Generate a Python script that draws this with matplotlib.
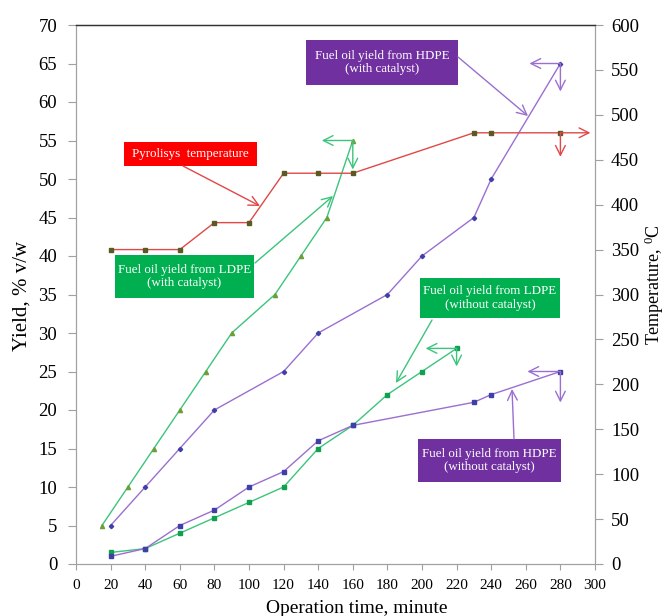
import matplotlib
matplotlib.use("Agg")
import matplotlib.pyplot as plt
from matplotlib.patches import Rectangle

# ---------------- data ----------------
time_temp = [20, 40, 60, 80, 100, 120, 140, 160, 230, 240, 280]
temperature = [350, 350, 350, 380, 380, 435, 435, 435, 480, 480, 480]

time_ldpe_cat = [15, 30, 45, 60, 75, 90, 115, 130, 145, 160]
yield_ldpe_cat = [5, 10, 15, 20, 25, 30, 35, 40, 45, 55]

time_hdpe_cat = [20, 40, 60, 80, 120, 140, 180, 200, 230, 240, 280]
yield_hdpe_cat = [5, 10, 15, 20, 25, 30, 35, 40, 45, 50, 65]

time_ldpe = [20, 40, 60, 80, 100, 120, 140, 160, 180, 200, 220]
yield_ldpe = [1.5, 2, 4, 6, 8, 10, 15, 18, 22, 25, 28]

time_hdpe = [20, 40, 60, 80, 100, 120, 140, 160, 230, 240, 280]
yield_hdpe = [1, 2, 5, 7, 10, 12, 16, 18, 21, 22, 25]

x_ticks = list(range(0, 301, 20))
y_ticks = list(range(0, 71, 5))
t_ticks = list(range(0, 601, 50))

# ---------------- style ----------------
plt.rcParams['font.family'] = ['Liberation Serif', 'DejaVu Serif']
PURPLE_L = '#9b6fd0'
PURPLE_M = '#3f3fa8'
GREEN_L = '#3cc47c'
GREEN_M_TRI = '#6e9e3a'
GREEN_M_SQ = '#10a050'
RED_L = '#e04848'
RED_M = '#5a5a22'
BOX_RED = '#ff0000'
BOX_GREEN = '#00b050'
BOX_PURPLE = '#7030a0'
SPINE = '#a0a0a0'

fig = plt.figure(figsize=(6.65, 6.16), dpi=100)
ax = fig.add_axes([76/665, 52/616, 519/665, 539/616])
ax2 = ax.twinx()

lw = 1.0
ms = 2.6
ax.plot(time_ldpe_cat, yield_ldpe_cat, color=GREEN_L, lw=lw, marker='^',
        ms=ms + 0.4, mfc=GREEN_M_TRI, mec=GREEN_M_TRI, zorder=3)
ax.plot(time_hdpe_cat, yield_hdpe_cat, color=PURPLE_L, lw=lw, marker='D',
        ms=ms * 0.85, mfc=PURPLE_M, mec=PURPLE_M, zorder=3)
ax.plot(time_ldpe, yield_ldpe, color=GREEN_L, lw=lw, marker='s',
        ms=ms, mfc=GREEN_M_SQ, mec=GREEN_M_SQ, zorder=3)
ax.plot(time_hdpe, yield_hdpe, color=PURPLE_L, lw=lw, marker='s',
        ms=ms * 0.9, mfc=PURPLE_M, mec=PURPLE_M, zorder=3)
ax2.plot(time_temp, temperature, color=RED_L, lw=lw, marker='s',
         ms=ms, mfc=RED_M, mec=RED_M, zorder=3)

ax.set_xlim(0, 300)
ax.set_ylim(0, 70)
ax2.set_ylim(0, 600)
ax.set_xticks(x_ticks)
ax.set_yticks(y_ticks)
ax2.set_yticks(t_ticks)

for a in (ax, ax2):
    for s in ('left', 'right', 'bottom'):
        a.spines[s].set_color(SPINE)
    a.spines['top'].set_color('#333333')
    a.spines['top'].set_linewidth(0.9)
ax.tick_params(axis='y', direction='out', length=6, color=SPINE, labelsize=13.5, pad=7.5)
ax.tick_params(axis='x', direction='out', length=4.5, color=SPINE, labelsize=11, pad=6.5)
ax2.tick_params(axis='y', direction='out', length=6, color=SPINE, labelsize=13.5, pad=5.5)

ax.set_xlabel('Operation time, minute', fontsize=14)
ax.xaxis.set_label_coords((357 - 76) / 519, (564 - 600) / 539)
ax.set_ylabel('Yield, % v/w', fontsize=15)
ax.yaxis.set_label_coords((32 - 76) / 519, (564 - 296) / 539)
ax2.set_ylabel('Temperature, $\\mathregular{^{0}}$C', fontsize=13)
ax2.yaxis.set_label_coords((643 - 76) / 519, (564 - 285) / 539)

# ---------------- annotation boxes ----------------
def px_to_data(px, py):
    return ((px - 76) / 519 * 300, (564 - py) / 539 * 70)

tr = ax.transData

def box(x0, y0, x1, y1, color, text):
    (dx0, dy1) = px_to_data(x0, y0)
    (dx1, dy0) = px_to_data(x1, y1)
    r = Rectangle((dx0, dy0), dx1 - dx0, dy1 - dy0, transform=tr,
                  facecolor=color, edgecolor='none', zorder=5, clip_on=False)
    ax2.add_patch(r)
    ax2.text((dx0 + dx1) / 2, (dy0 + dy1) / 2, text, transform=tr,
             ha='center', va='center', color='white', fontsize=9.4,
             linespacing=1.2, zorder=6)

def arrow(tail, head, color):
    ax2.annotate('', xy=px_to_data(*head), xycoords=tr,
                 xytext=px_to_data(*tail), textcoords=tr,
                 arrowprops=dict(arrowstyle='->,head_length=0.7,head_width=0.35',
                                 color=color, lw=1.0, shrinkA=0, shrinkB=0),
                 zorder=6)

box(124, 142, 257, 166, BOX_RED, 'Pyrolisys  temperature')
arrow((183, 166), (260, 206), RED_L)

box(115, 255, 254, 298, BOX_GREEN, 'Fuel oil yield from LDPE\n(with catalyst)')
arrow((255, 263), (333, 196), GREEN_L)

box(306, 40, 458, 85, BOX_PURPLE, 'Fuel oil yield from HDPE\n(with catalyst)')
arrow((458, 57), (528, 116), PURPLE_L)

box(420, 278, 560, 318, BOX_GREEN, 'Fuel oil yield from LDPE\n(without catalyst)')
arrow((432, 320), (396, 383), GREEN_L)

box(418, 439, 561, 482, BOX_PURPLE, 'Fuel oil yield from HDPE\n(without catalyst)')
arrow((514, 439), (512, 389), PURPLE_L)

# ---------------- end-point arrows ----------------
def end_arrows(axis, xs, ys, dx_px, dy_px, color):
    pt = 72 / 100
    for off in ((dx_px * pt, 0), (0, dy_px * pt)):
        axis.annotate('', xy=(xs[-1], ys[-1]), xycoords='data',
                      xytext=off, textcoords='offset points',
                      arrowprops=dict(arrowstyle='<-,head_length=0.7,head_width=0.35',
                                      color=color, lw=1.0, shrinkA=0, shrinkB=0),
                      zorder=6, annotation_clip=False)

end_arrows(ax, time_ldpe_cat, yield_ldpe_cat, -31, -29, GREEN_L)
end_arrows(ax, time_hdpe_cat, yield_hdpe_cat, -31, -28, PURPLE_L)
end_arrows(ax2, time_temp, temperature, 30, -24, RED_L)
end_arrows(ax, time_ldpe, yield_ldpe, -31, -18, GREEN_L)
end_arrows(ax, time_hdpe, yield_hdpe, -33, -31, PURPLE_L)

fig.savefig('out.png', dpi=100)
